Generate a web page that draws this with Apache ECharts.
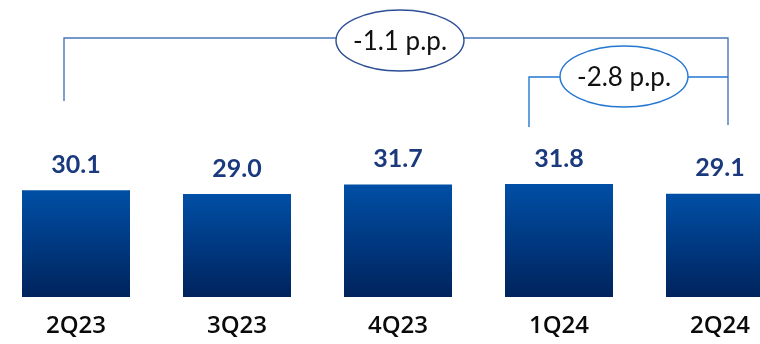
<!DOCTYPE html>
<html>
<head>
<meta charset="utf-8">
<script src="https://cdn.jsdelivr.net/npm/echarts@6/dist/echarts.min.js"></script>
<style>
  html, body { margin: 0; padding: 0; background: #ffffff; }
  #chart { width: 760px; height: 344px; }
</style>
</head>
<body>
<div id="chart"></div>
<script>
// Quarterly ratio (%), one bar per quarter
const quarters = ['2Q23', '3Q23', '4Q23', '1Q24', '2Q24'];
const ratios = [30.1, 29.0, 31.7, 31.8, 29.1];

// Change callouts: [from quarter index, to quarter index, text]
const yearChange = [0, 4, '-1.1 p.p.'];
const quarterChange = [3, 4, '-2.8 p.p.'];

const chart = echarts.init(document.getElementById('chart'), null, { renderer: 'canvas' });

const barGradient = new echarts.graphic.LinearGradient(0, 0, 0, 1, [
  { offset: 0, color: '#004fa6' },
  { offset: 1, color: '#00235c' }
]);

chart.setOption({
  animation: false,
  backgroundColor: '#ffffff',
  grid: {
    left: -4.5, width: 805, top: 155, height: 142,
    containLabel: false, outerBoundsMode: 'none'
  },
  xAxis: {
    type: 'category',
    data: quarters,
    axisLine: { show: false },
    axisTick: { show: false },
    axisLabel: {
      margin: 17,
      color: '#0a0a0a',
      fontFamily: 'Open Sans',
      fontWeight: 600,
      fontSize: 24,
      interval: 0,
      hideOverlap: false
    }
  },
  yAxis: {
    type: 'value',
    min: 0,
    max: 40,
    show: false,
    splitLine: { show: false }
  },
  series: [{
    type: 'bar',
    data: ratios,
    barWidth: 108,
    itemStyle: { color: barGradient },
    label: {
      show: true,
      position: 'top',
      distance: 13,
      color: '#1b3a7e',
      fontFamily: 'Lato',
      fontWeight: 'bold',
      fontSize: 25,
      formatter: p => p.value.toFixed(1)
    }
  }]
});

// Bracket callouts above the bars, anchored on the bar positions
function barX(i) {
  return chart.convertToPixel({ xAxisIndex: 0 }, quarters[i]);
}

function callout(opts) {
  const c = opts.color;
  const els = [];
  els.push({
    type: 'polyline', z: 10, silent: true,
    shape: { points: [[opts.x1, opts.y1], [opts.x1, opts.y], [opts.x2, opts.y], [opts.x2, opts.y2]] },
    style: { stroke: opts.lineColor || c, lineWidth: 1.4, fill: null }
  });
  els.push({
    type: 'ellipse', z: 11, silent: true,
    shape: { cx: opts.cx, cy: opts.cy, rx: 64, ry: 30.5 },
    style: { fill: '#ffffff', stroke: c, lineWidth: 1.4 }
  });
  els.push({
    type: 'text', z: 12, silent: true,
    x: opts.cx, y: opts.cy + 1,
    style: {
      text: opts.text, fill: '#111111',
      font: '26px Lato', align: 'center', verticalAlign: 'middle'
    }
  });
  return els;
}

const rightX = barX(yearChange[1]) + 8;
const outerLeft = barX(yearChange[0]) - 12;
const innerLeft = barX(quarterChange[0]) - 30;

chart.setOption({
  graphic: [].concat(
    callout({
      x1: outerLeft, y1: 101, x2: rightX, y2: 125, y: 38,
      cx: (barX(yearChange[0]) + barX(yearChange[1])) / 2 + 2, cy: 40.5,
      text: yearChange[2], color: '#2d4f96', lineColor: '#4a76b5'
    }),
    callout({
      x1: innerLeft, y1: 127, x2: rightX, y2: 77, y: 77,
      cx: innerLeft + 95, cy: 76.5,
      text: quarterChange[2], color: '#2477d0'
    })
  )
});
</script>
</body>
</html>
